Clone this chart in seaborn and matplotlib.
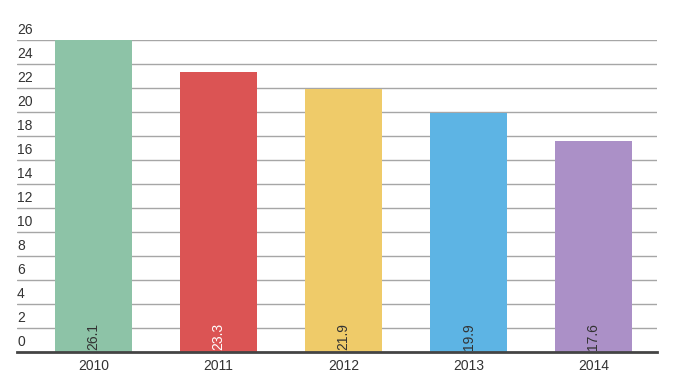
import matplotlib
import matplotlib.pyplot as plt
import matplotlib.transforms as mtransforms
import pandas as pd
import seaborn as sns

matplotlib.use('Agg')

years = ["2010", "2011", "2012", "2013", "2014"]
values = [26.1, 23.3, 21.9, 19.9, 17.6]
bar_colors = ["#8dc3a7", "#db5454", "#efcb69", "#5db4e4", "#ab90c7"]
label_colors = ["#333333", "#ffffff", "#333333", "#333333", "#333333"]
y_ticks = list(range(0, 27, 2))

sns.set_style("white")
plt.rcParams['font.family'] = ['Liberation Sans', 'DejaVu Sans']

df = pd.DataFrame({"year": years, "value": values})

fig = plt.figure(figsize=(6.8, 3.79), dpi=100)
ax = fig.add_axes([17 / 680, 27 / 379, 640 / 680, 312 / 379])

sns.barplot(data=df, x="year", y="value", hue="year", palette=bar_colors,
            width=0.616, legend=False, ax=ax, saturation=1, linewidth=0,
            zorder=3)

ax.set_xlim(-0.612, 4.508)
ax.set_ylim(0, 26)
ax.set_yticks(y_ticks)
ax.set_yticklabels([])
ax.tick_params(axis='y', length=0)
ax.tick_params(axis='x', length=0, labelsize=10, colors='#333333', pad=5)
ax.set_xlabel("")
ax.set_ylabel("")

# horizontal grid lines behind bars
for t in y_ticks[1:]:
    ax.axhline(t, color='#a6a6a6', linewidth=1, zorder=1)

# tick labels sit just above each grid line
trans = mtransforms.blended_transform_factory(ax.transAxes, ax.transData)
for t in y_ticks:
    ax.text(0, t + 0.25, str(t), transform=trans, ha='left', va='bottom',
            fontsize=10, color='#333333')

for i, (v, c) in enumerate(zip(values, label_colors)):
    ax.text(i, 0.2, f"{v}", rotation=90, ha='center', va='bottom',
            fontsize=10, color=c, zorder=4)

for name, spine in ax.spines.items():
    spine.set_visible(False)
ax.spines['bottom'].set_visible(True)
ax.spines['bottom'].set_color('#444444')
ax.spines['bottom'].set_linewidth(2)
ax.spines['bottom'].set_zorder(5)

fig.savefig("out.png", dpi=100)
